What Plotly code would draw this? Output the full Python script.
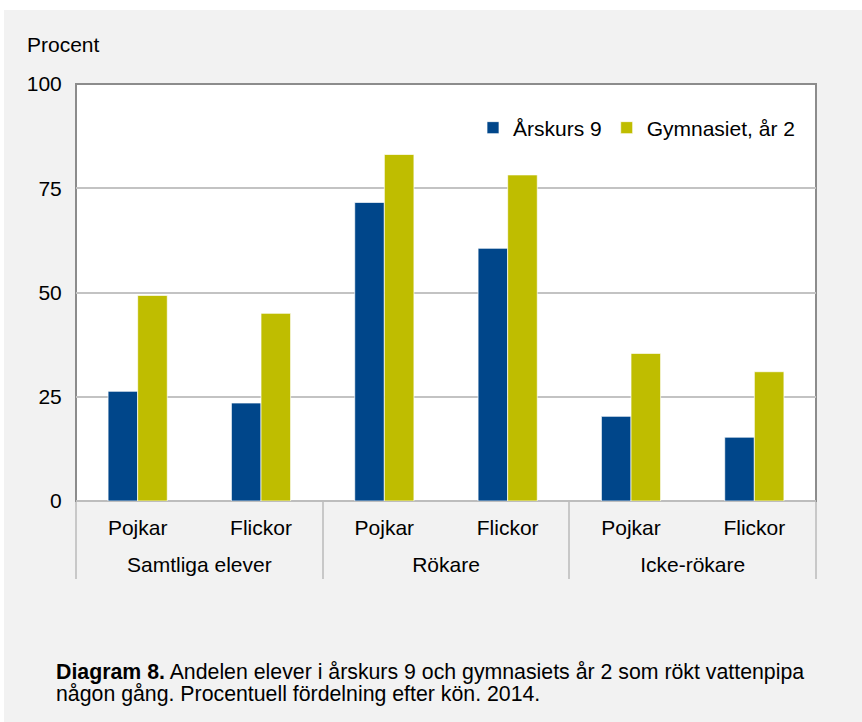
import plotly.graph_objects as go

groups = ["Samtliga elever", "Samtliga elever", "Rökare", "Rökare", "Icke-rökare", "Icke-rökare"]
genders = ["Pojkar", "Flickor", "Pojkar", "Flickor", "Pojkar", "Flickor"]
arskurs9 = [26.3, 23.5, 71.6, 60.6, 20.3, 15.3]
gymnasiet2 = [49.3, 45.0, 83.1, 78.2, 35.4, 31.0]
series_names = ["Årskurs 9", "Gymnasiet, år 2"]
y_ticks = [0, 25, 50, 75, 100]

n = len(genders)
xpos = list(range(n))
# group names, centres and boundaries derived from the category arrays
group_names, group_centres, boundaries = [], [], [-0.5]
start = 0
for i in range(1, n + 1):
    if i == n or groups[i] != groups[i - 1]:
        group_names.append(groups[i - 1])
        group_centres.append((start + i - 1) / 2)
        boundaries.append(i - 0.5)
        start = i

W, H = 862, 722
L, R, T, B = 76, 46, 84, 221
pw, ph = W - L - R, H - T - B

def px_x(px):
    return (px - L) / pw

def px_y(py):
    return (H - B - py) / ph

FONT = "Liberation Sans, Arial, sans-serif"
BLUE = "#00468a"
YELLOW = "#bfbd00"
XR = [-0.5, n - 0.5]

fig = go.Figure()
fig.add_trace(go.Bar(x=xpos, y=arskurs9, name=series_names[0],
                     marker=dict(color=BLUE, line=dict(color="rgba(255,255,255,0.7)", width=1))))
fig.add_trace(go.Bar(x=xpos, y=gymnasiet2, name=series_names[1],
                     marker=dict(color=YELLOW, line=dict(color="rgba(255,255,255,0.7)", width=1))))
# empty helper traces so that the group-label axis and the divider axis are drawn
fig.add_trace(go.Scatter(x=group_centres, y=[None] * len(group_centres), xaxis="x2", yaxis="y",
                         mode="markers", showlegend=False, hoverinfo="skip"))
fig.add_trace(go.Scatter(x=boundaries, y=[None] * len(boundaries), xaxis="x3", yaxis="y",
                         mode="markers", showlegend=False, hoverinfo="skip"))

fig.update_layout(
    width=W, height=H,
    margin=dict(l=L, r=R, t=T, b=B, pad=0),
    paper_bgcolor="white",
    plot_bgcolor="rgba(0,0,0,0)",
    barmode="group", bargap=0.52, bargroupgap=0,
    font=dict(family=FONT, size=21, color="#000000"),
    showlegend=True,
    legend=dict(orientation="h", x=px_x(473), y=px_y(128), xanchor="left", yanchor="middle",
                bgcolor="rgba(0,0,0,0)", font=dict(size=21), traceorder="normal"),
    shapes=[
        dict(type="rect", xref="paper", yref="paper", x0=px_x(4), x1=1.2, y0=-0.7, y1=px_y(10),
             fillcolor="#f2f2f2", line=dict(width=0), layer="below"),
        dict(type="rect", xref="paper", yref="paper", x0=0, x1=1, y0=0, y1=1,
             fillcolor="white", line=dict(color="#8c8c8c", width=2), layer="below"),
    ],
    annotations=[
        dict(text="Procent", xref="paper", yref="paper", x=px_x(25), y=px_y(45),
             xanchor="left", yanchor="middle", showarrow=False, font=dict(size=21)),
        dict(text="<b>Diagram 8.</b> Andelen elever i årskurs 9 och gymnasiets år 2 som rökt vattenpipa",
             xref="paper", yref="paper", x=px_x(54), y=px_y(672),
             xanchor="left", yanchor="middle", showarrow=False, font=dict(size=21.3)),
        dict(text="någon gång. Procentuell fördelning efter kön. 2014.",
             xref="paper", yref="paper", x=px_x(54), y=px_y(694),
             xanchor="left", yanchor="middle", showarrow=False, font=dict(size=21.3)),
    ],
    xaxis=dict(range=XR, tickmode="array", tickvals=xpos, ticktext=genders,
               ticks="outside", ticklen=8, tickcolor="rgba(0,0,0,0)",
               showgrid=False, zeroline=False, showline=False, fixedrange=True,
               tickfont=dict(size=21)),
    xaxis2=dict(range=XR, overlaying="x", anchor="y", side="bottom",
                tickmode="array", tickvals=group_centres, ticktext=group_names,
                ticks="outside", ticklen=45, tickcolor="rgba(0,0,0,0)",
                showgrid=False, zeroline=False, showline=False, fixedrange=True,
                tickfont=dict(size=21)),
    xaxis3=dict(range=XR, overlaying="x", anchor="y", side="bottom",
                tickmode="array", tickvals=boundaries, ticktext=[""] * len(boundaries),
                ticks="outside", ticklen=77, tickwidth=2, tickcolor="#c8c8c8",
                showgrid=False, zeroline=False, showline=False, fixedrange=True),
    yaxis=dict(range=[0, 100], tickvals=y_ticks, showgrid=True, gridcolor="#c3c3c3", gridwidth=1.5,
               zeroline=True, zerolinecolor="#bdbdbd", zerolinewidth=2,
               showline=False, ticks="outside", ticklen=9, tickcolor="rgba(0,0,0,0)",
               tickfont=dict(size=21), fixedrange=True),
)

fig.write_html("out.html", config={"displayModeBar": False},
               post_script="document.body.style.margin='0px';")
